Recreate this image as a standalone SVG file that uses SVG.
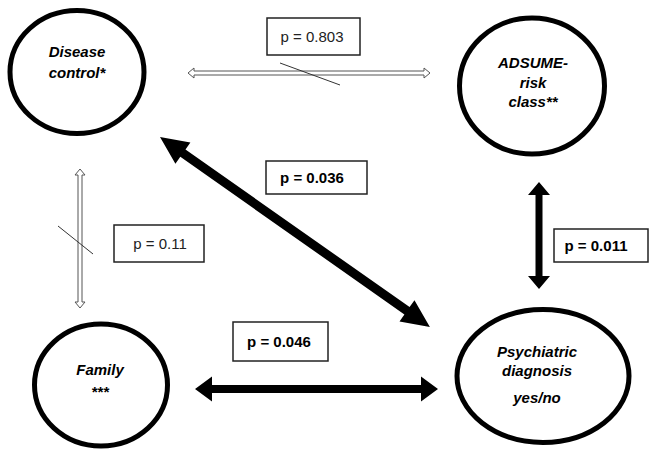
<svg xmlns="http://www.w3.org/2000/svg" width="653" height="452" viewBox="0 0 653 452">
<style>
.node ellipse{fill:#fff;stroke:#000;stroke-width:5}
.nt{font-family:"Liberation Sans",Arial,sans-serif;font-size:15px;font-weight:bold;font-style:italic;fill:#000;text-anchor:middle}
.box{fill:#fff;stroke:#222;stroke-width:1.5}
.lt{font-family:"Liberation Sans",Arial,sans-serif;font-size:15px;fill:#222;text-anchor:middle}
.lb{font-weight:bold;fill:#000}
.hollow{fill:#fff;stroke:#555;stroke-width:1}
.thick{fill:#000}
.strike{stroke:#333;stroke-width:1;fill:none}
</style>
<rect width="653" height="452" fill="#fff"/>
<g id="connectors">
  <polygon class="hollow" points="188,73 194,68 194,71 424,71 424,68 430,73 424,78 424,75 194,75 194,78"/>
  <line class="strike" x1="280" y1="63" x2="340" y2="85"/>
  <polygon class="hollow" points="80,169 85,175 82,175 82,302 85,302 80,308 75,302 78,302 78,175 75,175"/>
  <line class="strike" x1="58" y1="226" x2="93" y2="254"/>
  <g transform="translate(160,137) rotate(35.13)">
    <polygon class="thick" points="0,0 28,-13 28,-4.5 302,-4.5 302,-13 330,0 302,13 302,4.5 28,4.5 28,13"/>
  </g>
  <polygon class="thick" points="539,182 550,195 542.5,195 542.5,276 550,276 539,289 528,276 535.5,276 535.5,195 528,195"/>
  <polygon class="thick" points="195,389 212,376.5 212,385 421,385 421,376.5 438,389 421,401.5 421,393 212,393 212,401.5"/>
</g>
<g id="label-0803"><rect class="box" x="267" y="18" width="93" height="37"/><text class="lt" x="312" y="42">p = 0.803</text></g>
<g id="label-011"><rect class="box" x="114" y="225" width="90" height="37"/><text class="lt" x="160" y="249">p = 0.11</text></g>
<g id="label-0036"><rect class="box" x="266" y="161" width="101" height="33"/><text class="lt lb" x="312" y="183">p = 0.036</text></g>
<g id="label-0011"><rect class="box" x="554" y="229" width="94" height="33"/><text class="lt lb" x="596" y="251">p = 0.011</text></g>
<g id="label-0046"><rect class="box" x="233" y="322" width="95" height="39"/><text class="lt lb" x="279" y="347">p = 0.046</text></g>
<g id="node-disease" class="node">
  <ellipse cx="77" cy="72" rx="67" ry="61.5"/>
  <text class="nt" x="77" y="57">Disease</text>
  <text class="nt" x="77" y="78">control*</text>
</g>
<g id="node-adsume" class="node">
  <ellipse cx="532" cy="86" rx="72.5" ry="68"/>
  <text class="nt" x="533" y="68">ADSUME-</text>
  <text class="nt" x="533" y="88">risk</text>
  <text class="nt" x="533" y="107">class**</text>
</g>
<g id="node-family" class="node">
  <ellipse cx="101" cy="385" rx="66.5" ry="61"/>
  <text class="nt" x="100" y="375">Family</text>
  <text class="nt" x="100" y="397">***</text>
</g>
<g id="node-psych" class="node">
  <ellipse cx="543" cy="376" rx="86" ry="66.5"/>
  <text class="nt" x="537" y="357">Psychiatric</text>
  <text class="nt" x="537" y="376">diagnosis</text>
  <text class="nt" x="537" y="403">yes/no</text>
</g>
</svg>
